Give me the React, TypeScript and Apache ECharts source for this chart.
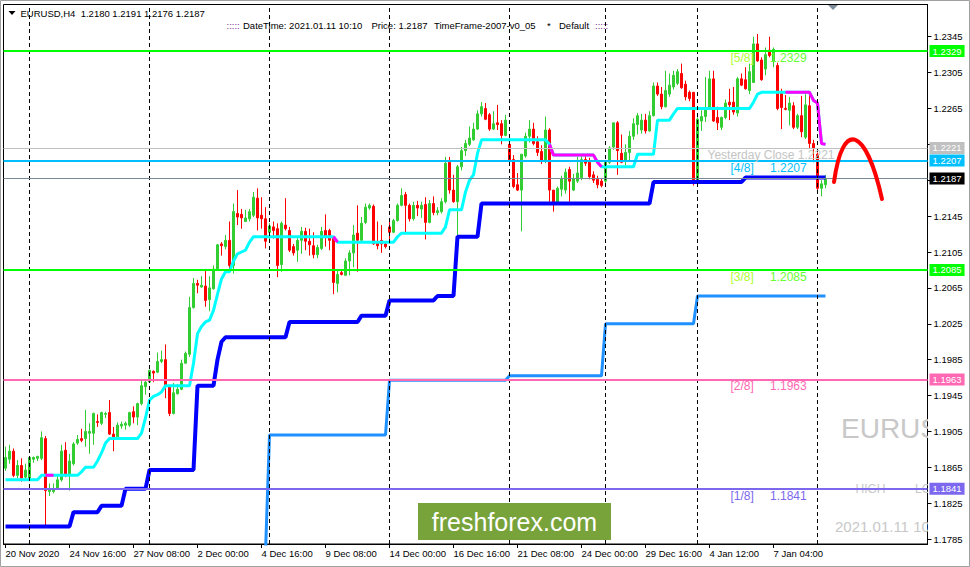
import React, { useEffect, useRef } from 'react';
import * as echarts from 'echarts';

const FONT = "'Liberation Sans', Arial, sans-serif";

const symbolName = 'EURUSD';
const timeframe = 'H4';
const serverTime = '2021.01.11 10:10';

const xLabels = [
  '20 Nov 2020', '24 Nov 16:00', '27 Nov 08:00', '2 Dec 00:00', '4 Dec 16:00', '9 Dec 08:00',
  '14 Dec 00:00', '16 Dec 16:00', '21 Dec 08:00', '24 Dec 00:00', '29 Dec 16:00', '4 Jan 12:00', '7 Jan 04:00',
];
const yTicks = [1.1785, 1.1825, 1.1865, 1.1905, 1.1945, 1.1985, 1.2025, 1.2065, 1.2105, 1.2145, 1.2185, 1.2225, 1.2265, 1.2305, 1.2345];

// [open, close, low, high]
const candles: number[][] = [
  [1.1864, 1.1876, 1.1861, 1.1888], [1.1874, 1.1883, 1.1869, 1.1890], [1.1883, 1.1856, 1.1854, 1.1886], [1.1856, 1.1867, 1.1853, 1.1873],
  [1.1867, 1.1853, 1.1849, 1.1875], [1.1854, 1.1862, 1.1851, 1.1869], [1.1853, 1.1876, 1.1851, 1.1877], [1.1874, 1.1876, 1.1870, 1.1877],
  [1.1875, 1.1877, 1.1872, 1.1878], [1.1875, 1.1898, 1.1873, 1.1905], [1.1897, 1.1839, 1.1799, 1.1900], [1.1838, 1.1840, 1.1833, 1.1847],
  [1.1838, 1.1840, 1.1836, 1.1847], [1.1841, 1.1851, 1.1841, 1.1856], [1.1851, 1.1883, 1.1849, 1.1890], [1.1884, 1.1856, 1.1854, 1.1893],
  [1.1856, 1.1872, 1.1839, 1.1880], [1.1869, 1.1891, 1.1867, 1.1893], [1.1892, 1.1896, 1.1890, 1.1901], [1.1897, 1.1895, 1.1893, 1.1908],
  [1.1897, 1.1905, 1.1888, 1.1929], [1.1903, 1.1905, 1.1880, 1.1914], [1.1903, 1.1925, 1.1890, 1.1926], [1.1916, 1.1915, 1.1910, 1.1924],
  [1.1914, 1.1926, 1.1912, 1.1927], [1.1924, 1.1925, 1.1920, 1.1927], [1.1926, 1.1902, 1.1901, 1.1940], [1.1902, 1.1899, 1.1883, 1.1910],
  [1.1899, 1.1912, 1.1897, 1.1915], [1.1911, 1.1913, 1.1908, 1.1916], [1.1912, 1.1914, 1.1907, 1.1916], [1.1912, 1.1926, 1.1910, 1.1927],
  [1.1927, 1.1921, 1.1914, 1.1933], [1.1921, 1.1936, 1.1912, 1.1937], [1.1936, 1.1956, 1.1934, 1.1962], [1.1955, 1.1960, 1.1946, 1.1962],
  [1.1960, 1.1973, 1.1959, 1.1974], [1.1972, 1.1970, 1.1960, 1.1973], [1.1971, 1.1983, 1.1970, 1.1993], [1.1983, 1.1985, 1.1981, 1.1995],
  [1.1985, 1.1955, 1.1942, 1.2002], [1.1955, 1.1925, 1.1922, 1.1957], [1.1925, 1.1948, 1.1924, 1.1959], [1.1947, 1.1952, 1.1946, 1.1958],
  [1.1952, 1.1981, 1.1951, 1.1985], [1.1981, 1.1992, 1.1981, 1.1994], [1.1991, 1.2043, 1.1988, 1.2055], [1.2043, 1.2070, 1.2042, 1.2076],
  [1.2070, 1.2068, 1.2059, 1.2074], [1.2066, 1.2068, 1.2065, 1.2078], [1.2067, 1.2051, 1.2044, 1.2086], [1.2052, 1.2065, 1.2039, 1.2078],
  [1.2064, 1.2086, 1.2063, 1.2090], [1.2086, 1.2113, 1.2084, 1.2114], [1.2114, 1.2112, 1.2101, 1.2116], [1.2111, 1.2118, 1.2108, 1.2124],
  [1.2118, 1.2090, 1.2083, 1.2139], [1.2090, 1.2150, 1.2081, 1.2159], [1.2148, 1.2144, 1.2135, 1.2174], [1.2147, 1.2143, 1.2131, 1.2153],
  [1.2139, 1.2143, 1.2139, 1.2152], [1.2142, 1.2150, 1.2139, 1.2153], [1.2146, 1.2166, 1.2144, 1.2172], [1.2165, 1.2143, 1.2129, 1.2176],
  [1.2146, 1.2142, 1.2131, 1.2166], [1.2142, 1.2117, 1.2109, 1.2155], [1.2127, 1.2134, 1.2118, 1.2137], [1.2133, 1.2129, 1.2120, 1.2139],
  [1.2131, 1.2090, 1.2077, 1.2137], [1.2091, 1.2137, 1.2083, 1.2139], [1.2135, 1.2131, 1.2129, 1.2165], [1.2129, 1.2107, 1.2105, 1.2133],
  [1.2111, 1.2104, 1.2101, 1.2114], [1.2107, 1.2118, 1.2094, 1.2122], [1.2118, 1.2128, 1.2103, 1.2133], [1.2128, 1.2117, 1.2107, 1.2132],
  [1.2117, 1.2113, 1.2101, 1.2131], [1.2112, 1.2102, 1.2098, 1.2127], [1.2102, 1.2110, 1.2098, 1.2113], [1.2109, 1.2128, 1.2107, 1.2133],
  [1.2129, 1.2122, 1.2111, 1.2147], [1.2129, 1.2118, 1.2107, 1.2131], [1.2120, 1.2071, 1.2058, 1.2122], [1.2070, 1.2080, 1.2060, 1.2084],
  [1.2082, 1.2080, 1.2079, 1.2085], [1.2079, 1.2095, 1.2079, 1.2098], [1.2095, 1.2104, 1.2079, 1.2107], [1.2104, 1.2124, 1.2088, 1.2135],
  [1.2126, 1.2118, 1.2083, 1.2157], [1.2118, 1.2137, 1.2115, 1.2144], [1.2138, 1.2155, 1.2136, 1.2159], [1.2154, 1.2157, 1.2152, 1.2159],
  [1.2156, 1.2114, 1.2113, 1.2158], [1.2116, 1.2112, 1.2108, 1.2139], [1.2118, 1.2114, 1.2104, 1.2135], [1.2114, 1.2111, 1.2109, 1.2116],
  [1.2133, 1.2127, 1.2114, 1.2143], [1.2127, 1.2140, 1.2126, 1.2142], [1.2140, 1.2157, 1.2139, 1.2159], [1.2157, 1.2168, 1.2156, 1.2176],
  [1.2169, 1.2157, 1.2127, 1.2172], [1.2157, 1.2142, 1.2139, 1.2159], [1.2142, 1.2157, 1.2140, 1.2161], [1.2157, 1.2154, 1.2145, 1.2162],
  [1.2153, 1.2157, 1.2143, 1.2161], [1.2158, 1.2138, 1.2119, 1.2166], [1.2138, 1.2159, 1.2137, 1.2163], [1.2159, 1.2149, 1.2146, 1.2167],
  [1.2149, 1.2151, 1.2146, 1.2155], [1.2150, 1.2161, 1.2148, 1.2165], [1.2161, 1.2204, 1.2159, 1.2211], [1.2205, 1.2174, 1.2170, 1.2211],
  [1.2174, 1.2161, 1.2160, 1.2191], [1.2161, 1.2200, 1.2123, 1.2202], [1.2200, 1.2218, 1.2196, 1.2222], [1.2218, 1.2226, 1.2212, 1.2230],
  [1.2225, 1.2232, 1.2223, 1.2245], [1.2230, 1.2242, 1.2229, 1.2249], [1.2242, 1.2259, 1.2241, 1.2263], [1.2259, 1.2267, 1.2256, 1.2272],
  [1.2265, 1.2253, 1.2252, 1.2271], [1.2258, 1.2242, 1.2240, 1.2260], [1.2242, 1.2248, 1.2241, 1.2262], [1.2249, 1.2247, 1.2241, 1.2269],
  [1.2248, 1.2235, 1.2225, 1.2252], [1.2235, 1.2252, 1.2234, 1.2258], [1.2225, 1.2206, 1.2201, 1.2230], [1.2208, 1.2178, 1.2176, 1.2213],
  [1.2180, 1.2174, 1.2173, 1.2193], [1.2174, 1.2214, 1.2128, 1.2214], [1.2212, 1.2234, 1.2210, 1.2238], [1.2234, 1.2242, 1.2227, 1.2252],
  [1.2242, 1.2226, 1.2224, 1.2249], [1.2228, 1.2216, 1.2212, 1.2234], [1.2217, 1.2207, 1.2203, 1.2224], [1.2206, 1.2241, 1.2204, 1.2256],
  [1.2241, 1.2174, 1.2161, 1.2243], [1.2174, 1.2159, 1.2150, 1.2174], [1.2159, 1.2176, 1.2158, 1.2178], [1.2175, 1.2187, 1.2167, 1.2190],
  [1.2174, 1.2194, 1.2170, 1.2198], [1.2197, 1.2184, 1.2161, 1.2200], [1.2174, 1.2187, 1.2173, 1.2192], [1.2184, 1.2193, 1.2182, 1.2211],
  [1.2188, 1.2208, 1.2185, 1.2213], [1.2208, 1.2204, 1.2201, 1.2213], [1.2205, 1.2189, 1.2186, 1.2210], [1.2191, 1.2185, 1.2182, 1.2195],
  [1.2186, 1.2180, 1.2176, 1.2190], [1.2184, 1.2179, 1.2177, 1.2187], [1.2184, 1.2205, 1.2182, 1.2207], [1.2205, 1.2221, 1.2203, 1.2223],
  [1.2222, 1.2249, 1.2219, 1.2249], [1.2249, 1.2218, 1.2191, 1.2251], [1.2215, 1.2205, 1.2204, 1.2236], [1.2206, 1.2216, 1.2202, 1.2225],
  [1.2216, 1.2234, 1.2207, 1.2240], [1.2234, 1.2248, 1.2230, 1.2254], [1.2247, 1.2257, 1.2236, 1.2260], [1.2241, 1.2252, 1.2237, 1.2259],
  [1.2252, 1.2240, 1.2237, 1.2259], [1.2240, 1.2257, 1.2239, 1.2262], [1.2257, 1.2290, 1.2256, 1.2294], [1.2290, 1.2281, 1.2279, 1.2294],
  [1.2281, 1.2267, 1.2264, 1.2289], [1.2267, 1.2285, 1.2266, 1.2307], [1.2281, 1.2291, 1.2278, 1.2304], [1.2289, 1.2302, 1.2286, 1.2307],
  [1.2293, 1.2306, 1.2291, 1.2309], [1.2304, 1.2288, 1.2287, 1.2315], [1.2292, 1.2278, 1.2274, 1.2296], [1.2283, 1.2276, 1.2273, 1.2285],
  [1.2283, 1.2184, 1.2179, 1.2283], [1.2184, 1.2253, 1.2182, 1.2255], [1.2251, 1.2256, 1.2240, 1.2263], [1.2256, 1.2266, 1.2250, 1.2300],
  [1.2266, 1.2298, 1.2264, 1.2307], [1.2298, 1.2251, 1.2250, 1.2307], [1.2255, 1.2249, 1.2241, 1.2267], [1.2244, 1.2255, 1.2241, 1.2256],
  [1.2255, 1.2271, 1.2253, 1.2275], [1.2272, 1.2269, 1.2252, 1.2287], [1.2272, 1.2261, 1.2258, 1.2289], [1.2260, 1.2298, 1.2256, 1.2300],
  [1.2298, 1.2291, 1.2290, 1.2304], [1.2297, 1.2287, 1.2286, 1.2311], [1.2285, 1.2306, 1.2281, 1.2315], [1.2294, 1.2337, 1.2294, 1.2345],
  [1.2337, 1.2318, 1.2317, 1.2348], [1.2319, 1.2297, 1.2296, 1.2322], [1.2309, 1.2325, 1.2302, 1.2333], [1.2330, 1.2324, 1.2322, 1.2345],
  [1.2318, 1.2331, 1.2311, 1.2333], [1.2313, 1.2265, 1.2263, 1.2316], [1.2282, 1.2266, 1.2242, 1.2287], [1.2265, 1.2264, 1.2263, 1.2280],
  [1.2263, 1.2271, 1.2246, 1.2278], [1.2268, 1.2244, 1.2242, 1.2272], [1.2244, 1.2257, 1.2242, 1.2259], [1.2257, 1.2239, 1.2233, 1.2279],
  [1.2233, 1.2269, 1.2231, 1.2281], [1.2268, 1.2226, 1.2221, 1.2281], [1.2226, 1.2221, 1.2205, 1.2230], [1.2214, 1.2176, 1.2170, 1.2216],
  [1.2176, 1.2181, 1.2167, 1.2185], [1.2180, 1.2187, 1.2176, 1.2191],
];

const weekSeparators = [6, 36, 66, 96, 126, 150, 173, 203];

// indicator lines, as [value, number of bars]
const cyanRuns: [number, number][] = [
  [1.1851, 9], [1.1856, 10], [1.1860, 1], [1.1865, 3], [1.1872, 1], [1.1881, 1], [1.1892, 1], [1.1897, 8],
  [1.1903, 1], [1.1920, 1], [1.1940, 1], [1.1944, 1], [1.1946, 1], [1.1949, 1], [1.1956, 7], [1.1981, 1],
  [1.2014, 1], [1.2022, 1], [1.2027, 1], [1.2029, 1], [1.2040, 1], [1.2058, 1], [1.2075, 1], [1.2083, 2],
  [1.2095, 1], [1.2103, 1], [1.2105, 1], [1.2107, 1], [1.2116, 1], [1.2122, 21], [1.2116, 15], [1.2122, 1],
  [1.2126, 11], [1.2133, 1], [1.2152, 4], [1.2172, 1], [1.2185, 1], [1.2191, 1], [1.2215, 1], [1.2230, 17],
  [1.2225, 1], [1.2213, 11], [1.2205, 1], [1.2200, 9], [1.2214, 5], [1.2252, 4], [1.2259, 1], [1.2265, 19],
  [1.2272, 1], [1.2281, 1], [1.2283, 13], [1.2274, 1], [1.2271, 1], [1.2226, 1], [1.2225, 1],
];
const magentaRanges: [number, number][] = [[10, 12], [82, 83], [136, 143], [144, 149], [195, 205]];
const blueRuns: [number, number][] = [
  [1.1799, 17], [1.1815, 7], [1.1822, 6], [1.1841, 6], [1.1862, 12], [1.1956, 5], [1.1985, 1], [1.2005, 1],
  [1.2010, 16], [1.2027, 18], [1.2034, 7], [1.2051, 12], [1.2056, 5], [1.2122, 6], [1.2159, 43], [1.2183, 23], [1.2188, 21],
];
const dodgerStart = 65;
const dodgerRuns: [number, number][] = [[1.1770, 1], [1.1901, 30], [1.1962, 30], [1.1967, 24], [1.2025, 23], [1.2056, 33]];

const levelPrices = [1.2329, 1.2207, 1.2085, 1.1963, 1.1841];
const levelTags = ['[5/8]', '[4/8]', '[3/8]', '[2/8]', '[1/8]'];
const yesterdayClose = 1.2221;
const bidPrice = 1.2187;

// ---------- styles ----------
const levelStyles = [
  { line: '#00ff00', tag: '#adff2f', val: '#66ff33' },
  { line: '#00bfff', tag: '#00bfff', val: '#00bfff' },
  { line: '#00ff00', tag: '#adff2f', val: '#66ff33' },
  { line: '#ff69b4', tag: '#ff69b4', val: '#ff69b4' },
  { line: '#7b68ee', tag: '#7b68ee', val: '#7b68ee' },
];
const SLOTS = 231;
const LABEL_EVERY = 16;
const LABEL_BAR = 181;

const expand = (runs: [number, number][]) => {
  const out: number[] = [];
  runs.forEach(([v, n]) => { for (let k = 0; k < n; k++) out.push(v); });
  return out;
};

function buildOption() {
  const categories = Array.from({ length: SLOTS }, (_, i) => String(i));
  const cyan = expand(cyanRuns);
  const magenta = cyan.map((v, i) => (magentaRanges.some(([a, b]) => i >= a && i <= b) ? v : null));
  const blue = expand(blueRuns);
  const dodger: (number | null)[] = [...Array(dodgerStart).fill(null), ...expand(dodgerRuns)];
  const last = candles[candles.length - 1];
  const fmt = (v: number) => v.toFixed(4);
  const isLabel = (i: number) => i % LABEL_EVERY === 0 && i / LABEL_EVERY < xLabels.length;

  const levelMarks: any[] = levelPrices.map((p, i) => ({
    yAxis: p,
    lineStyle: { color: levelStyles[i].line, width: 2, type: 'solid' },
    label: { backgroundColor: levelStyles[i].line, formatter: fmt(p) },
  }));
  levelMarks.push({ yAxis: yesterdayClose, lineStyle: { color: '#c0c0c0', width: 1, type: 'solid' }, label: { backgroundColor: '#c0c0c0', formatter: fmt(yesterdayClose) } });
  levelMarks.push({ yAxis: bidPrice, lineStyle: { color: '#7a8794', width: 1, type: 'solid' }, label: { backgroundColor: '#000000', formatter: fmt(bidPrice) } });

  const textStyle = { fontFamily: FONT, fontSize: 9.5, fill: '#000', verticalAlign: 'middle' as const };

  return {
    animation: false,
    backgroundColor: '#ffffff',
    grid: { left: 3.5, top: 4.5, width: 4 * SLOTS, height: 539.5, show: true, borderColor: '#000', borderWidth: 1, backgroundColor: '#fff' },
    xAxis: {
      type: 'category',
      data: categories,
      boundaryGap: true,
      axisLine: { show: true, lineStyle: { color: '#000', width: 1 } },
      axisTick: { show: true, alignWithLabel: true, length: 4, interval: (i: number) => isLabel(i), lineStyle: { color: '#000' } },
      axisLabel: {
        interval: (i: number) => isLabel(i),
        formatter: (_v: string, i: number) => (isLabel(i) ? xLabels[i / LABEL_EVERY] : ''),
        align: 'left', fontSize: 9.5, fontFamily: FONT, color: '#000', margin: 4,
      },
      splitLine: { show: false },
    },
    yAxis: {
      type: 'value',
      position: 'right',
      min: 1.17795,
      max: 1.23809,
      axisLine: { show: true, lineStyle: { color: '#000', width: 1 } },
      axisTick: { show: true, length: 4, customValues: yTicks, lineStyle: { color: '#000' } },
      axisLabel: { customValues: yTicks, formatter: (v: number) => v.toFixed(4), fontSize: 9.5, fontFamily: FONT, color: '#000', margin: 6 },
      splitLine: { show: false },
    },
    series: [
      {
        type: 'candlestick',
        data: candles,
        barWidth: 2,
        z: 2,
        itemStyle: { color: '#32cd32', color0: '#ff0000', borderColor: '#32cd32', borderColor0: '#ff0000', borderColorDoji: '#32cd32', borderWidth: 1 },
        markLine: {
          silent: true, symbol: ['none', 'none'], animation: false, precision: 0,
          label: { show: false },
          lineStyle: { color: '#000', width: 1, type: [4, 3] },
          data: weekSeparators.map((i) => ({ xAxis: i })),
        },
      },
      { type: 'line', data: blue, symbol: 'none', z: 3, lineStyle: { color: '#0000ff', width: 4 }, silent: true },
      { type: 'line', data: dodger, symbol: 'none', z: 3, lineStyle: { color: '#1e90ff', width: 3 }, silent: true },
      { type: 'line', data: cyan, symbol: 'none', z: 3, lineStyle: { color: '#00ffff', width: 3 }, silent: true },
      {
        type: 'line', data: magenta, symbol: 'none', z: 3, lineStyle: { color: '#ff00ff', width: 3 }, silent: true,
        markLine: {
          silent: true, symbol: ['none', 'none'], animation: false, precision: 5,
          label: { show: true, position: 'end', distance: 2, color: '#fff', fontSize: 9.5, fontFamily: FONT, padding: [1, 3, 0, 3], lineHeight: 11 },
          data: levelMarks,
        },
      },
      {
        type: 'custom',
        z: 6,
        silent: true,
        data: [...levelPrices.map((p) => [LABEL_BAR, p]), [LABEL_BAR, yesterdayClose]],
        renderItem: (params: any, api: any) => {
          const i = params.dataIndex;
          const pt = api.coord([api.value(0), api.value(1)]);
          const f = { fontFamily: FONT, fontSize: 12, verticalAlign: 'middle' };
          if (i < levelPrices.length) {
            return {
              type: 'group',
              children: [
                { type: 'text', x: pt[0] + 1, y: pt[1] + 7, style: { text: levelTags[i], fill: levelStyles[i].tag, ...f } },
                { type: 'text', x: pt[0] + 40.5, y: pt[1] + 7, style: { text: levelPrices[i].toFixed(4), fill: levelStyles[i].val, ...f } },
              ],
            };
          }
          return { type: 'text', x: pt[0] - 22, y: pt[1] + 7.5, style: { text: `Yesterday Close ${yesterdayClose.toFixed(4)}`, fill: '#c4c4c4', ...f } };
        },
      },
      {
        type: 'custom',
        z: 1,
        silent: true,
        clip: true,
        data: [[0, 1.2]],
        renderItem: (params: any) => {
          const cs = params.coordSys;
          const r = cs.x + cs.width;
          const g = '#c8c8c8';
          return {
            type: 'group',
            children: [
              { type: 'text', x: r - 86.5, y: 428, style: { text: symbolName, fill: g, fontFamily: FONT, fontSize: 28, verticalAlign: 'middle' } },
              { type: 'text', x: r - 72, y: 489, style: { text: 'HIGH', fill: g, fontFamily: FONT, fontSize: 12, verticalAlign: 'middle' } },
              { type: 'text', x: r - 12.5, y: 489, style: { text: 'LOW', fill: g, fontFamily: FONT, fontSize: 12, verticalAlign: 'middle' } },
              { type: 'text', x: r - 92.5, y: 526.5, style: { text: serverTime, fill: g, fontFamily: FONT, fontSize: 15, verticalAlign: 'middle' } },
            ],
          };
        },
      },
    ],
    graphic: [
      { type: 'rect', shape: { x: 0.5, y: 0.5, width: 969, height: 566 }, style: { fill: 'none', stroke: '#a0a0a0', lineWidth: 1 }, z: 0, silent: true },
      { type: 'polygon', shape: { points: [[8.5, 11], [15.5, 11], [12, 15]] }, style: { fill: '#000' }, z: 100 },
      { type: 'text', x: 20.5, y: 13, z: 100, style: { ...textStyle, text: `${symbolName},${timeframe}  ${fmt(last[0])} ${fmt(last[3])} ${fmt(last[2])} ${fmt(last[1])}` } },
      { type: 'text', x: 226.5, y: 25.5, z: 100, style: { ...textStyle, fill: '#7a2a8a', text: ':::::' } },
      { type: 'text', x: 243, y: 25.5, z: 100, style: { ...textStyle, text: `DateTime: ${serverTime}` } },
      { type: 'text', x: 371.5, y: 25.5, z: 100, style: { ...textStyle, text: `Price: ${fmt(last[1])}` } },
      { type: 'text', x: 434, y: 25.5, z: 100, style: { ...textStyle, text: 'TimeFrame-2007-v0_05' } },
      { type: 'text', x: 547, y: 25.5, z: 100, style: { ...textStyle, text: '*' } },
      { type: 'text', x: 559, y: 25.5, z: 100, style: { ...textStyle, text: 'Default' } },
      { type: 'text', x: 595, y: 25.5, z: 100, style: { ...textStyle, fill: '#7a2a8a', text: ':::::' } },
      { type: 'polygon', shape: { points: [[828, 5], [838, 5], [833, 10]] }, style: { fill: '#7f8d9b' }, z: 100 },
      {
        type: 'bezierCurve', z: 100,
        shape: { x1: 834, y1: 182, cpx1: 843, cpy1: 118, cpx2: 866, cpy2: 128, x2: 882, y2: 199 },
        style: { stroke: '#ff0000', lineWidth: 4, fill: 'none', lineCap: 'round' },
      },
      { type: 'rect', z: 100, shape: { x: 418, y: 503, width: 193, height: 37 }, style: { fill: '#77a33a' } },
      { type: 'text', z: 101, x: 514.5, y: 522, style: { text: 'freshforex.com', fill: '#ffffff', fontFamily: FONT, fontSize: 25, align: 'center', verticalAlign: 'middle' } },
    ],
  };
}

export default function App() {
  const ref = useRef<HTMLDivElement>(null);
  useEffect(() => {
    document.body.style.margin = '0';
    const chart = echarts.init(ref.current as HTMLDivElement, undefined, { renderer: 'svg' });
    chart.setOption(buildOption() as any);
    return () => chart.dispose();
  }, []);
  return <div ref={ref} style={{ position: 'absolute', left: 0, top: 0, width: 970, height: 567, background: '#fff' }} />;
}
